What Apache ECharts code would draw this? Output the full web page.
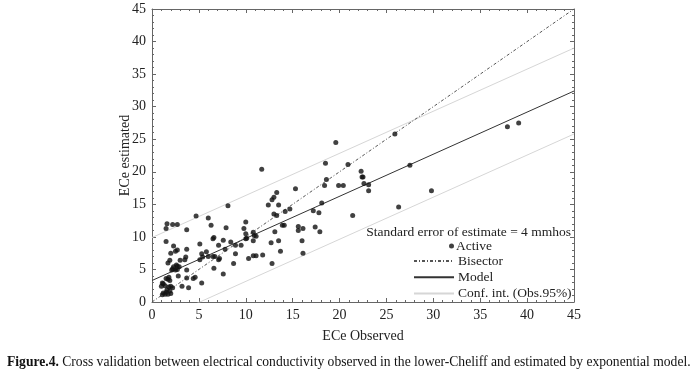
<!DOCTYPE html>
<html>
<head>
<meta charset="utf-8">
<script src="https://cdn.jsdelivr.net/npm/echarts@6/dist/echarts.min.js"></script>
<style>
  html, body { margin: 0; padding: 0; background: #fff; }
  #chart { width: 694px; height: 374px; }
</style>
</head>
<body>
<div id="chart"></div>
<script>
// ECe observed / estimated (mmhos)
var activePoints = [
    [11.7, 20.4], [18.5, 21.3], [20.9, 21.1], [18.6, 18.8], [19.9, 17.9], [20.4, 17.9], [18.4, 17.9],
    [18.1, 15.2], [15.3, 17.4], [13.3, 16.8], [12.8, 15.7], [13.0, 16.1], [12.4, 14.9], [13.5, 14.9],
    [13.0, 13.5], [13.3, 13.3], [14.7, 14.3], [14.2, 13.9], [17.2, 14.0], [17.8, 13.7], [14.1, 11.8],
    [13.9, 11.8], [13.1, 10.8], [15.6, 11.6], [15.6, 11.0], [16.1, 11.3], [17.4, 11.5], [17.9, 10.8],
    [16.0, 9.4], [16.1, 7.5], [13.5, 9.4], [13.7, 7.8], [12.7, 9.1], [12.8, 5.9], [11.8, 7.2],
    [11.1, 7.1], [10.8, 7.1], [10.3, 6.7], [10.8, 10.7], [10.9, 10.2], [11.1, 10.1], [10.8, 9.4],
    [10.0, 12.3], [10.0, 10.5], [10.1, 9.8], [10.0, 9.7], [9.8, 11.3], [9.5, 8.7], [8.9, 8.7],
    [8.9, 7.4], [8.7, 5.9], [8.4, 9.2], [7.9, 11.4], [8.1, 14.8], [7.8, 8.1], [7.6, 9.5], [7.1, 8.7],
    [7.6, 4.3], [7.1, 6.5], [7.2, 6.7], [6.6, 5.2], [6.7, 7.0], [6.5, 7.0], [6.5, 9.7], [6.6, 9.9],
    [6.0, 7.0], [6.3, 11.8], [6.0, 12.9], [5.8, 7.7], [5.3, 7.4], [5.4, 6.9], [5.1, 6.5], [4.7, 13.2],
    [5.1, 8.9], [5.3, 2.9], [4.4, 3.6], [4.6, 3.8], [3.7, 11.1], [3.7, 8.1], [3.7, 4.9], [3.5, 6.5],
    [3.6, 6.9], [3.7, 3.7], [3.9, 2.2], [3.2, 2.4], [3.0, 6.4], [2.8, 4.0], [2.6, 5.7], [2.7, 5.5],
    [2.9, 5.4], [2.5, 4.9], [2.3, 5.4], [2.7, 5.0], [2.2, 5.1], [2.5, 7.8], [2.7, 8.0], [2.3, 8.6],
    [2.0, 7.5], [2.7, 11.9], [2.2, 11.9], [1.6, 12.0], [1.5, 11.3], [1.5, 9.3], [1.9, 6.4], [1.7, 6.0],
    [2.1, 4.9], [1.8, 3.8], [1.5, 3.6], [1.9, 3.3], [1.7, 3.5], [1.2, 2.8], [1.1, 2.9], [1.4, 2.5],
    [1.0, 2.4], [1.8, 2.3], [2.0, 2.4], [1.6, 1.9], [2.2, 2.2], [1.9, 1.7], [1.5, 1.5], [1.2, 1.4],
    [1.4, 1.2], [1.1, 1.1], [2.0, 1.3], [1.7, 1.2],
    [27.5, 21.0], [22.3, 20.1], [22.4, 19.2], [22.5, 19.2], [22.6, 18.2], [23.1, 18.0], [23.1, 17.1],
    [21.4, 13.3], [26.3, 14.6], [29.8, 17.1], [25.9, 25.8], [37.9, 26.9], [39.1, 27.5], [19.6, 24.5]
];
var bisectorLine = [[0, 0], [45, 45]];
var modelLine = [[0, 3.3], [45, 32.4]];
var confUpper = [[0, 9.9], [45, 39.0]];
var confLower = [[0, -3.3], [45, 25.8]];

var axisTicks = [0, 5, 10, 15, 20, 25, 30, 35, 40, 45];

var captionBold = 'Figure.4.';
var captionText = ' Cross validation between electrical conductivity observed in the lower-Cheliff and estimated by exponential model.';
var headerText = 'Standard error of estimate = 4 mmhos';

var serif = '"Liberation Serif", "DejaVu Serif", serif';
var frameColor = '#666';

function makeAxis(pos, name, showLabel) {
    return {
        type: 'value',
        position: pos,
        min: axisTicks[0],
        max: axisTicks[axisTicks.length - 1],
        interval: 5,
        name: name,
        nameLocation: 'middle',
        nameGap: pos === 'bottom' ? 27 : 20,
        nameMoveOverlap: false,
        nameTextStyle: { fontFamily: serif, fontSize: 14, color: '#222' },
        axisLine: { show: true, onZero: false, lineStyle: { color: frameColor, width: 1 } },
        axisTick: { show: true, inside: true, length: 4, lineStyle: { color: frameColor } },
        minorTick: { show: true, splitNumber: 5, length: 2, lineStyle: { color: frameColor } },
        splitLine: { show: false },
        axisLabel: {
            show: showLabel,
            margin: 6,
            fontFamily: serif,
            fontSize: 14,
            color: '#222'
        }
    };
}

var chart = echarts.init(document.getElementById('chart'));

var option = {
    backgroundColor: '#fff',
    animation: false,
    title: [
        {
            text: '{b|' + captionBold + '}' + captionText,
            left: 7,
            top: 355,
            padding: 0,
            textStyle: {
                fontFamily: serif,
                fontSize: 13.6,
                fontWeight: 'normal',
                color: '#111',
                rich: {
                    b: { fontFamily: serif, fontSize: 13.6, fontWeight: 'bold', color: '#111' }
                }
            }
        },
        {
            text: headerText,
            right: 123,
            top: 225,
            padding: 0,
            textStyle: { fontFamily: serif, fontSize: 13.5, fontWeight: 'normal', color: '#222' }
        }
    ],
    legend: [
        {
            data: ['Active'],
            left: 449,
            top: 239,
            padding: 0,
            icon: 'circle',
            itemWidth: 5,
            itemHeight: 5,
            itemGap: 0,
            textStyle: { fontFamily: serif, fontSize: 13.5, color: '#222', padding: [0, 0, 0, -3] }
        },
        {
            data: ['Bisector', 'Model', 'Conf. int. (Obs.95%)'],
            orient: 'vertical',
            left: 413,
            top: 254,
            padding: 0,
            itemWidth: 40,
            itemHeight: 14,
            itemGap: 2.3,
            itemStyle: { opacity: 0 },
            textStyle: { fontFamily: serif, fontSize: 13.5, color: '#222', padding: [0, 0, 0, -1] }
        }
    ],
    grid: {
        left: 152,
        top: 9,
        right: 120,
        bottom: 72,
        show: false
    },
    xAxis: [
        makeAxis('bottom', 'ECe Observed', true),
        makeAxis('top', '', false)
    ],
    yAxis: [
        makeAxis('left', 'ECe estimated', true),
        makeAxis('right', '', false)
    ],
    series: [
        {
            name: 'Conf. int. (Obs.95%)',
            type: 'line',
            data: confUpper,
            symbol: 'none',
            clip: true,
            lineStyle: { color: '#d6d6d6', width: 1 },
            itemStyle: { color: '#d6d6d6' }
        },
        {
            name: 'Conf. int. (Obs.95%)',
            type: 'line',
            data: confLower,
            symbol: 'none',
            clip: true,
            lineStyle: { color: '#d6d6d6', width: 1 },
            itemStyle: { color: '#d6d6d6' }
        },
        {
            name: 'Bisector',
            type: 'line',
            data: bisectorLine,
            symbol: 'none',
            lineStyle: { color: '#555', width: 1, type: [3, 2, 1, 2] },
            itemStyle: { color: '#555' }
        },
        {
            name: 'Model',
            type: 'line',
            data: modelLine,
            symbol: 'none',
            lineStyle: { color: '#333', width: 1 },
            itemStyle: { color: '#333' }
        },
        {
            name: 'Active',
            type: 'scatter',
            data: activePoints,
            symbol: 'circle',
            symbolSize: 5,
            itemStyle: { color: '#111' },
            z: 5
        }
    ]
};

chart.setOption(option);
</script>
</body>
</html>
